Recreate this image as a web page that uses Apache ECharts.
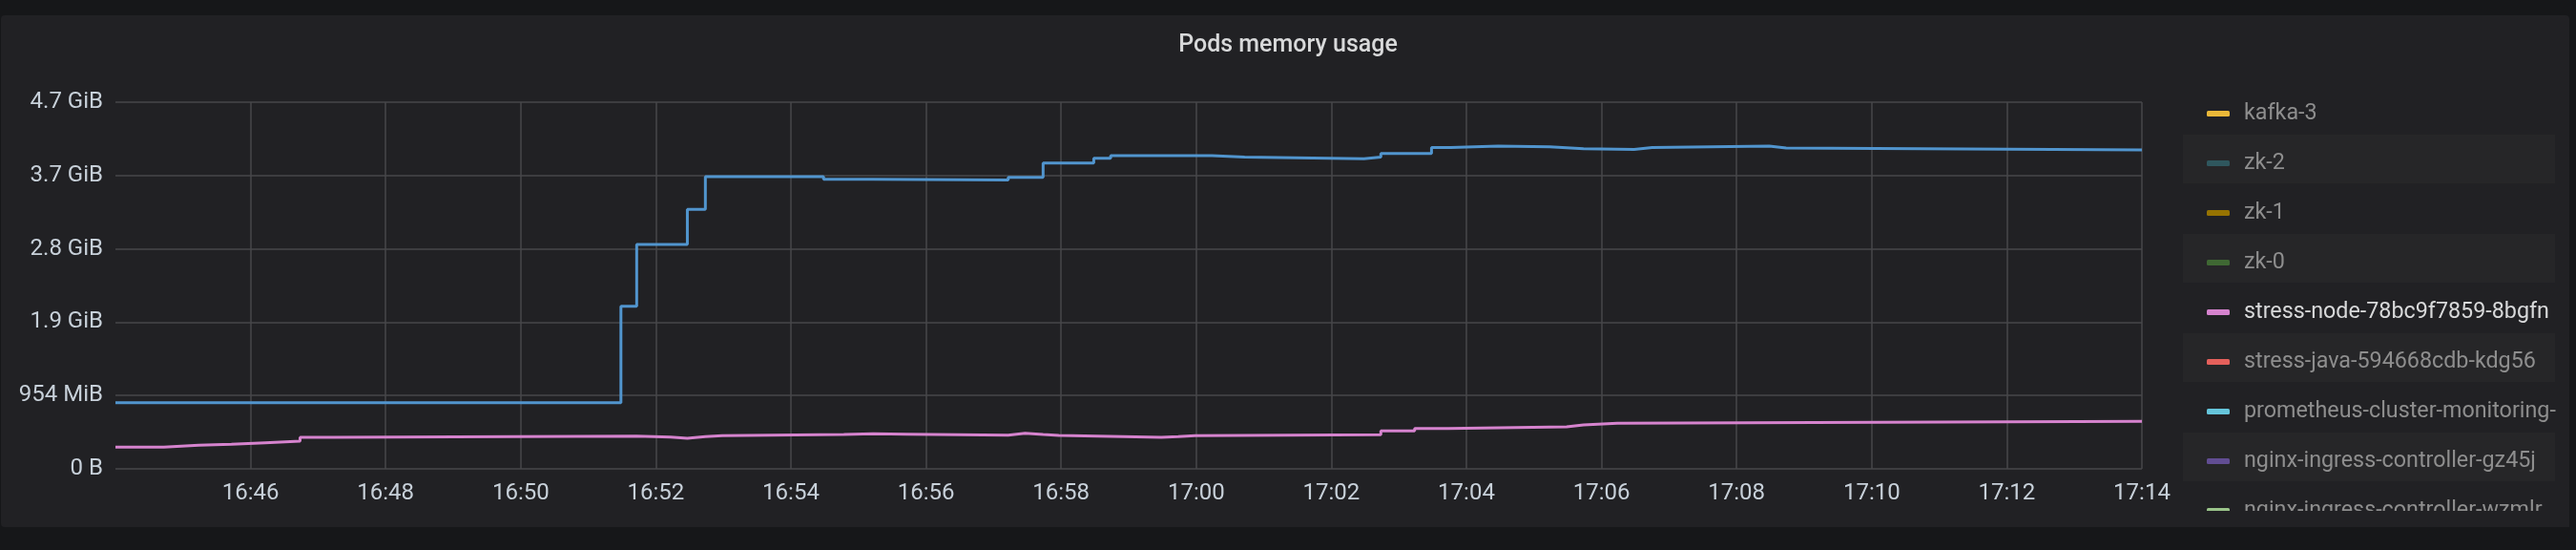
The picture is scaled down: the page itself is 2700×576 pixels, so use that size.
<!DOCTYPE html>
<html>
<head>
<meta charset="utf-8">
<script src="https://cdn.jsdelivr.net/npm/echarts@6/dist/echarts.min.js"></script>
<style>
html,body{margin:0;padding:0;background:#161719;}
#chart{width:2700px;height:576px;}
</style>
</head>
<body>
<div id="chart"></div>
<script>
// ---- data ----
const titleText = 'Pods memory usage';
const startTime = '16:44:00';
const endTime = '17:14:00';
const yTickLabels = ['0 B', '954 MiB', '1.9 GiB', '2.8 GiB', '3.7 GiB', '4.7 GiB']; // ticks at 0..5 GB (1e9 B)
const legendNames = ['kafka-3', 'zk-2', 'zk-1', 'zk-0', 'stress-node-78bc9f7859-8bgfn',
  'stress-java-594668cdb-kdg56', 'prometheus-cluster-monitoring-0', 'nginx-ingress-controller-gz45j',
  'nginx-ingress-controller-wzmlr'];
const legendColors = ['#EAB839', '#2F575E', '#967302', '#3F6833', '#D683CE', '#E5605B', '#65C5DB', '#614D93', '#9AC48A'];
const highlightedName = 'stress-node-78bc9f7859-8bgfn';

// blue series (legend entry scrolled out of view), values in GB (1e9 bytes)
const blueName = 'pod-memory';
const blueColor = '#5195CE';
const blueTimes = ['16:44:00','16:51:29','16:51:43','16:52:28','16:52:44','16:54:29','16:55:13','16:57:13',
  '16:57:44','16:58:29','16:58:44','17:00:14','17:00:43','17:02:29','17:02:44','17:03:29','17:03:46',
  '17:04:28','17:05:14','17:05:44','17:06:29','17:06:45','17:08:29','17:08:44','17:14:00'];
const blueValues = [0.902,2.218,3.06,3.54,3.984,3.95,3.94,3.975,
  4.17,4.236,4.27,4.25,4.228,4.25,4.30,4.38,4.40,
  4.39,4.366,4.357,4.38,4.40,4.375,4.349,4.349];

// stress-node (pink)
const pinkTimes = ['16:44:00','16:44:43','16:45:14','16:45:43','16:46:13','16:46:44','16:47:14','16:51:43',
  '16:52:13','16:52:28','16:52:44','16:52:59','16:54:47','16:55:13','16:55:43','16:57:13','16:57:28',
  '16:57:44','16:57:58','16:59:29','16:59:44','16:59:59','17:02:44','17:03:14','17:03:44','17:05:29',
  '17:05:44','17:06:14','17:14:00'];
const pinkValues = [0.295,0.321,0.334,0.356,0.378,0.43,0.447,0.434,
  0.417,0.438,0.451,0.469,0.477,0.473,0.46,0.486,0.469,
  0.456,0.43,0.438,0.451,0.464,0.516,0.551,0.573,0.599,
  0.621,0.647,0.647];

// ---- helpers ----
function toSec(t){ const p=t.split(':').map(Number); return p[0]*3600+p[1]*60+(p[2]||0); }
const t0 = toSec(startTime);
function toMin(t){ return (toSec(t)-t0)/60; }
function fmtMin(m){ const s=t0+Math.round(m*60); const h=Math.floor(s/3600), mm=Math.floor((s%3600)/60);
  return String(h).padStart(2,'0')+':'+String(mm).padStart(2,'0'); }
function pairs(ts, vs){ return ts.map((t,i)=>[toMin(t), vs[i]]); }

const FONT = 'Roboto, "Noto Sans", sans-serif';
const PANEL = '#212124', PAGE = '#161719';
const series = legendNames.map((n,i)=>({
  name:n, type:'line', step:'end', showSymbol:false, color:legendColors[i],
  lineStyle:{width:3}, data: n===highlightedName ? pairs(pinkTimes,pinkValues) : []
}));
series.push({name:blueName, type:'line', step:'end', showSymbol:false, color:blueColor,
  lineStyle:{width:3}, data:pairs(blueTimes, blueValues)});

const chart = echarts.init(document.getElementById('chart'), null, {renderer:'canvas'});
const stripeRows = [1,3,5,7];
const graphics = [
  {type:'rect', z:-100, shape:{x:1,y:16,width:2692,height:536,r:4}, style:{fill:PANEL}},
  ...stripeRows.map(r=>({type:'rect', z:-90, shape:{x:2288,y:89+r*52,width:390,height:51}, style:{fill:'#262628'}})),
  // legend scroll viewport clipping
  {type:'rect', z:100, shape:{x:2280,y:535,width:413,height:17}, style:{fill:PANEL}},
  {type:'rect', z:100, shape:{x:2679,y:60,width:14,height:492}, style:{fill:PANEL}},
  {type:'rect', z:100, shape:{x:2693,y:16,width:7,height:560}, style:{fill:PAGE}},
  {type:'rect', z:100, shape:{x:2280,y:552,width:420,height:24}, style:{fill:PAGE}}
];

chart.setOption({
  backgroundColor:PAGE,
  animation:false,
  textStyle:{fontFamily:FONT},
  title:{text:titleText, left:'center', top:35, padding:0,
    textStyle:{color:'#d8d9da', fontSize:25, fontWeight:500, fontFamily:FONT}},
  graphic:graphics,
  legend:{
    orient:'vertical', left:2308, top:101, itemWidth:24, itemHeight:6, itemGap:26,
    icon:'roundRect',
    data: legendNames.map(n=>({name:n, textStyle: n===highlightedName?{color:'#d8d9da'}:{}})),
    textStyle:{color:'#8e8e8e', fontSize:23.3, lineHeight:26, fontFamily:FONT, padding:[0,0,0,10]},
    selectedMode:false
  },
  grid:{left:121, top:107, right:455, bottom:85, containLabel:false},
  xAxis:{
    type:'value', min:0, max:toMin(endTime), interval:2,
    axisLine:{show:false}, axisTick:{show:false},
    axisLabel:{showMinLabel:false, color:'#c7d0d9', fontSize:24, margin:14, fontFamily:FONT,
      formatter:v=>fmtMin(v)},
    splitLine:{show:true, showMinLine:false, lineStyle:{color:'#47474a', width:1.5}}
  },
  yAxis:{
    type:'value', min:0, max:yTickLabels.length-1, interval:1,
    axisLine:{show:false}, axisTick:{show:false},
    axisLabel:{color:'#c7d0d9', fontSize:24, margin:13, fontFamily:FONT,
      formatter:v=>yTickLabels[Math.round(v)]},
    splitLine:{show:true, lineStyle:{color:'#47474a', width:1.5}}
  },
  series:series
});
</script>
</body>
</html>
